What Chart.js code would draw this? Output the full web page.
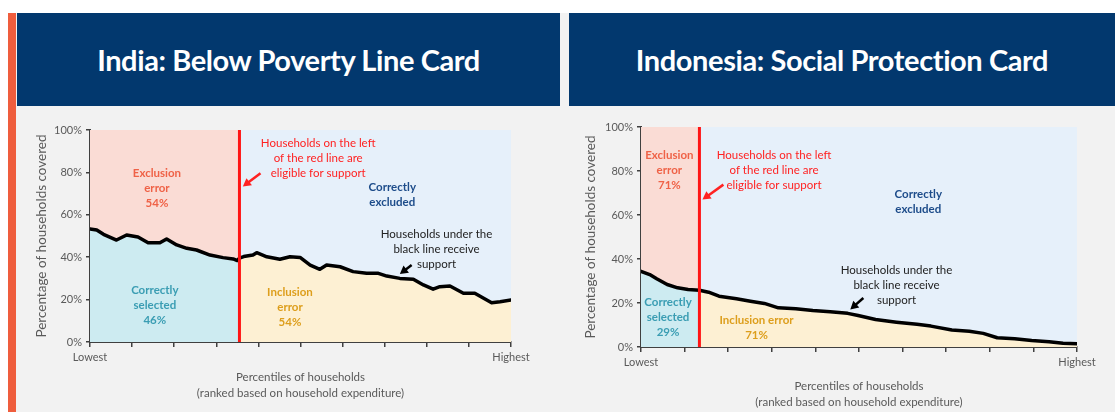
<!DOCTYPE html>
<html>
<head>
<meta charset="utf-8">
<script src="https://cdn.jsdelivr.net/npm/chart.js@4.4.1/dist/chart.umd.min.js"></script>
<style>
  html, body { margin: 0; padding: 0; background: #fff; }
  body { width: 1115px; height: 412px; position: relative; overflow: hidden; font-family: Lato, sans-serif; }
  .bar { position: absolute; left: 8px; top: 13px; width: 8px; bottom: 0; background: #ef5d3d; }
  .panelbg { position: absolute; left: 16px; top: 13px; right: 0; bottom: 0; background: #f2f2f2; }
  .head { position: absolute; top: 13px; height: 93px; background: #02386e; color: #fff;
          font-weight: bold; font-size: 29px; letter-spacing: -0.4px;
          display: flex; align-items: center; justify-content: center; }
  #h1 { left: 17px; width: 543px; }
  #h2 { left: 569px; width: 546px; }
  .box { position: absolute; top: 106px; height: 306px; }
  #b1 { left: 17px; width: 543px; }
  #b2 { left: 569px; width: 546px; }
</style>
</head>
<body>
<div class="panelbg"></div>
<div class="bar"></div>
<div class="head" id="h1">India: Below Poverty Line Card</div>
<div class="head" id="h2">Indonesia: Social Protection Card</div>
<div class="box" id="b1"><canvas id="c1" width="543" height="306"></canvas></div>
<div class="box" id="b2"><canvas id="c2" width="546" height="306"></canvas></div>
<script>
// India: percentile of households (x) and share covered (y, %)
const indiaPct = [0, 1.6, 3.2, 6.3, 8.7, 11.4, 13.8, 16.6, 18.2, 20.6, 23, 25.3, 28.5, 31.6, 34, 35, 35.5,
  36.5, 38.7, 39.6, 42, 45.1, 47.5, 49.9, 52.3, 54.6, 56.2, 59.4, 62.5, 65.7, 68.5, 70.5, 73.6,
  76.8, 79.2, 81.5, 83.1, 85.5, 88.7, 91.4, 95.4, 97.4, 100];
const indiaCov = [53.3, 52.8, 50.8, 48.1, 50.5, 49.5, 46.8, 46.8, 48.6, 45.8, 44.2, 43.4, 41, 39.8, 39.2, 38.4, 39.6,
  40.3, 41, 42.1, 40.2, 39, 40.2, 39.9, 36.3, 34.3, 36.3, 35.5, 33.2, 32.4, 32.4, 31.1, 30,
  29.6, 26.9, 24.9, 26.1, 26.4, 23, 23, 18.5, 19, 19.8];
const indiaCut = 35.5;

// Indonesia
const indoPct = [0, 2, 3.6, 6, 8.4, 10.8, 13.4, 15.5, 17.9, 21.9, 25.1, 28.3, 31.5, 35.5, 39.4, 43.4,
  47.4, 49.8, 53.8, 58.6, 63.3, 66.5, 71.3, 75.3, 78.5, 81.7, 85.7, 89.6, 93.6, 96.8, 100];
const indoCov = [34.4, 32.9, 31, 28.4, 26.9, 26.1, 25.8, 24.9, 23.1, 21.9, 20.8, 19.8, 17.8, 17.4, 16.6, 16,
  15.3, 14.3, 12.5, 11.3, 10.3, 9.5, 7.7, 7.2, 6.2, 4.2, 3.8, 3, 2.4, 1.7, 1.5];
const indoCut = 13.4;

const xTicks = [0, 10, 20, 30, 40, 50, 60, 70, 80, 90, 100];
const yTicks = [0, 20, 40, 60, 80, 100];

const FONT = 'Lato, sans-serif';
const AXIS = '#404040';
const TICK = '#5a5a5a';
const PINK = '#fadcd5', BLUE = '#e6f0fa', CYAN = '#cdebf1', YELLOW = '#fdf0d3';
const C_EXCL = '#ef6247', C_RED = '#ff2222', C_NAVY = '#1d4c8a', C_TEAL = '#3a9db3', C_GOLD = '#dd9e1c';

const notesPlugin = {
  id: 'notes',
  afterDatasetsDraw(chart, args, opts) {
    const { ctx, scales: { x, y } } = chart;
    ctx.save();
    ctx.textAlign = 'center';
    ctx.textBaseline = 'middle';
    for (const n of opts.texts) {
      ctx.font = (n.bold ? 'bold ' : '') + '11.5px ' + FONT;
      ctx.fillStyle = n.color;
      const px = x.getPixelForValue(n.x);
      const py = y.getPixelForValue(n.y);
      n.lines.forEach((t, i) => ctx.fillText(t, px, py + i * 15));
    }
    for (const a of opts.arrows) {
      const x1 = x.getPixelForValue(a.from[0]), y1 = y.getPixelForValue(a.from[1]);
      const x2 = x.getPixelForValue(a.to[0]), y2 = y.getPixelForValue(a.to[1]);
      const ang = Math.atan2(y2 - y1, x2 - x1);
      ctx.strokeStyle = a.color;
      ctx.fillStyle = a.color;
      ctx.lineWidth = 2.5;
      ctx.beginPath();
      ctx.moveTo(x1, y1);
      ctx.lineTo(x2 - 5 * Math.cos(ang), y2 - 5 * Math.sin(ang));
      ctx.stroke();
      ctx.beginPath();
      ctx.moveTo(x2, y2);
      ctx.lineTo(x2 - 8 * Math.cos(ang) + 4.5 * Math.sin(ang), y2 - 8 * Math.sin(ang) - 4.5 * Math.cos(ang));
      ctx.lineTo(x2 - 8 * Math.cos(ang) - 4.5 * Math.sin(ang), y2 - 8 * Math.sin(ang) + 4.5 * Math.cos(ang));
      ctx.closePath();
      ctx.fill();
    }
    ctx.restore();
  }
};

function makeChart(id, pct, cov, cut, lay, notes) {
  const pts = pct.map((p, i) => ({ x: p, y: cov[i] }));
  const left = pts.filter(p => p.x <= cut);
  const right = pts.filter(p => p.x >= cut);
  // fills get a higher order so they are painted under the lines
  const area = { borderWidth: 0, pointRadius: 0, tension: 0, order: 2 };
  return new Chart(document.getElementById(id), {
    type: 'line',
    data: {
      datasets: [
        { ...area, data: left, fill: 'origin', backgroundColor: CYAN },
        { ...area, data: left, fill: 'end', backgroundColor: PINK },
        { ...area, data: right, fill: 'origin', backgroundColor: YELLOW },
        { ...area, data: right, fill: 'end', backgroundColor: BLUE },
        { data: pts, fill: false, borderColor: '#000', borderWidth: 3.5, pointRadius: 0, tension: 0, order: 1,
          borderJoinStyle: 'round', borderCapStyle: 'round' },
        { data: [{ x: cut, y: 0 }, { x: cut, y: 100 }], fill: false, borderColor: '#ff1414', borderWidth: 3,
          pointRadius: 0, order: 0 }
      ]
    },
    options: {
      responsive: false,
      animation: false,
      devicePixelRatio: 1,
      layout: { padding: lay.pad },
      plugins: { legend: { display: false }, tooltip: { enabled: false }, notes: notes },
      scales: {
        x: {
          type: 'linear', min: 0, max: 100,
          afterBuildTicks: s => { s.ticks = xTicks.map(v => ({ value: v })); },
          grid: { drawOnChartArea: false, tickLength: 5, color: AXIS, lineWidth: 1.5 },
          border: { color: AXIS, width: 2 },
          ticks: { autoSkip: false, maxRotation: 0, padding: 4, color: TICK, font: { size: 11, family: FONT },
                   callback: v => v === 0 ? 'Lowest' : v === 100 ? 'Highest' : '' },
          title: { display: true, text: ['Percentiles of households', '(ranked based on household expenditure)'],
                   color: TICK, font: { size: 11.5, family: FONT, lineHeight: 1.4 }, padding: { top: 6, bottom: 0 } },
          afterFit: s => { s.height = lay.xH; }
        },
        y: {
          min: 0, max: 100,
          afterBuildTicks: s => { s.ticks = yTicks.map(v => ({ value: v })); },
          grid: { drawOnChartArea: false, tickLength: 4, color: AXIS, lineWidth: 1.5 },
          border: { color: AXIS, width: 2 },
          ticks: { padding: 4, color: TICK, font: { size: 11, family: FONT }, callback: v => v + '%' },
          title: { display: true, text: 'Percentage of households covered', color: TICK,
                   font: { size: 13.5, family: FONT }, padding: { top: 4, bottom: 4 } },
          afterFit: s => { s.width = lay.yW; }
        }
      }
    },
    plugins: [notesPlugin]
  });
}

makeChart('c1', indiaPct, indiaCov, indiaCut,
  { pad: { top: 24, right: 49, bottom: 11, left: 13 }, yW: 60, xH: 59 },
  {
    texts: [
      { lines: ['Exclusion', 'error', '54%'], x: 15.9, y: 79.7, color: C_EXCL, bold: true },
      { lines: ['Households on the left', 'of the red line are', 'eligible for support'], x: 54.2, y: 93.7, color: C_RED },
      { lines: ['Correctly', 'excluded'], x: 71.8, y: 72.8, color: C_NAVY, bold: true },
      { lines: ['Households under the', 'black line receive', 'support'], x: 82.3, y: 50.8, color: '#222' },
      { lines: ['Correctly', 'selected', '46%'], x: 15.4, y: 24.5, color: C_TEAL, bold: true },
      { lines: ['Inclusion', 'error', '54%'], x: 47.5, y: 23.4, color: C_GOLD, bold: true }
    ],
    arrows: [
      { from: [40.5, 79.6], to: [36.3, 73.3], color: C_RED },
      { from: [76.4, 36.3], to: [73.6, 32.1], color: '#000' }
    ]
  });

makeChart('c2', indoPct, indoCov, indoCut,
  { pad: { top: 21, right: 38, bottom: 2, left: 10 }, yW: 62, xH: 63 },
  {
    texts: [
      { lines: ['Exclusion', 'error', '71%'], x: 6.5, y: 87.1, color: C_EXCL, bold: true },
      { lines: ['Households on the left', 'of the red line are', 'eligible for support'], x: 30.5, y: 87.1, color: C_RED },
      { lines: ['Correctly', 'excluded'], x: 63.6, y: 69.2, color: C_NAVY, bold: true },
      { lines: ['Households under the', 'black line receive', 'support'], x: 58.6, y: 34.9, color: '#222' },
      { lines: ['Correctly', 'selected', '29%'], x: 6.2, y: 20.5, color: C_TEAL, bold: true },
      { lines: ['Inclusion error', '71%'], x: 26.5, y: 12.1, color: C_GOLD, bold: true }
    ],
    arrows: [
      { from: [18.9, 73.8], to: [14.1, 67], color: C_RED },
      { from: [51, 22.3], to: [48, 17.1], color: '#000' }
    ]
  });
</script>
</body>
</html>
